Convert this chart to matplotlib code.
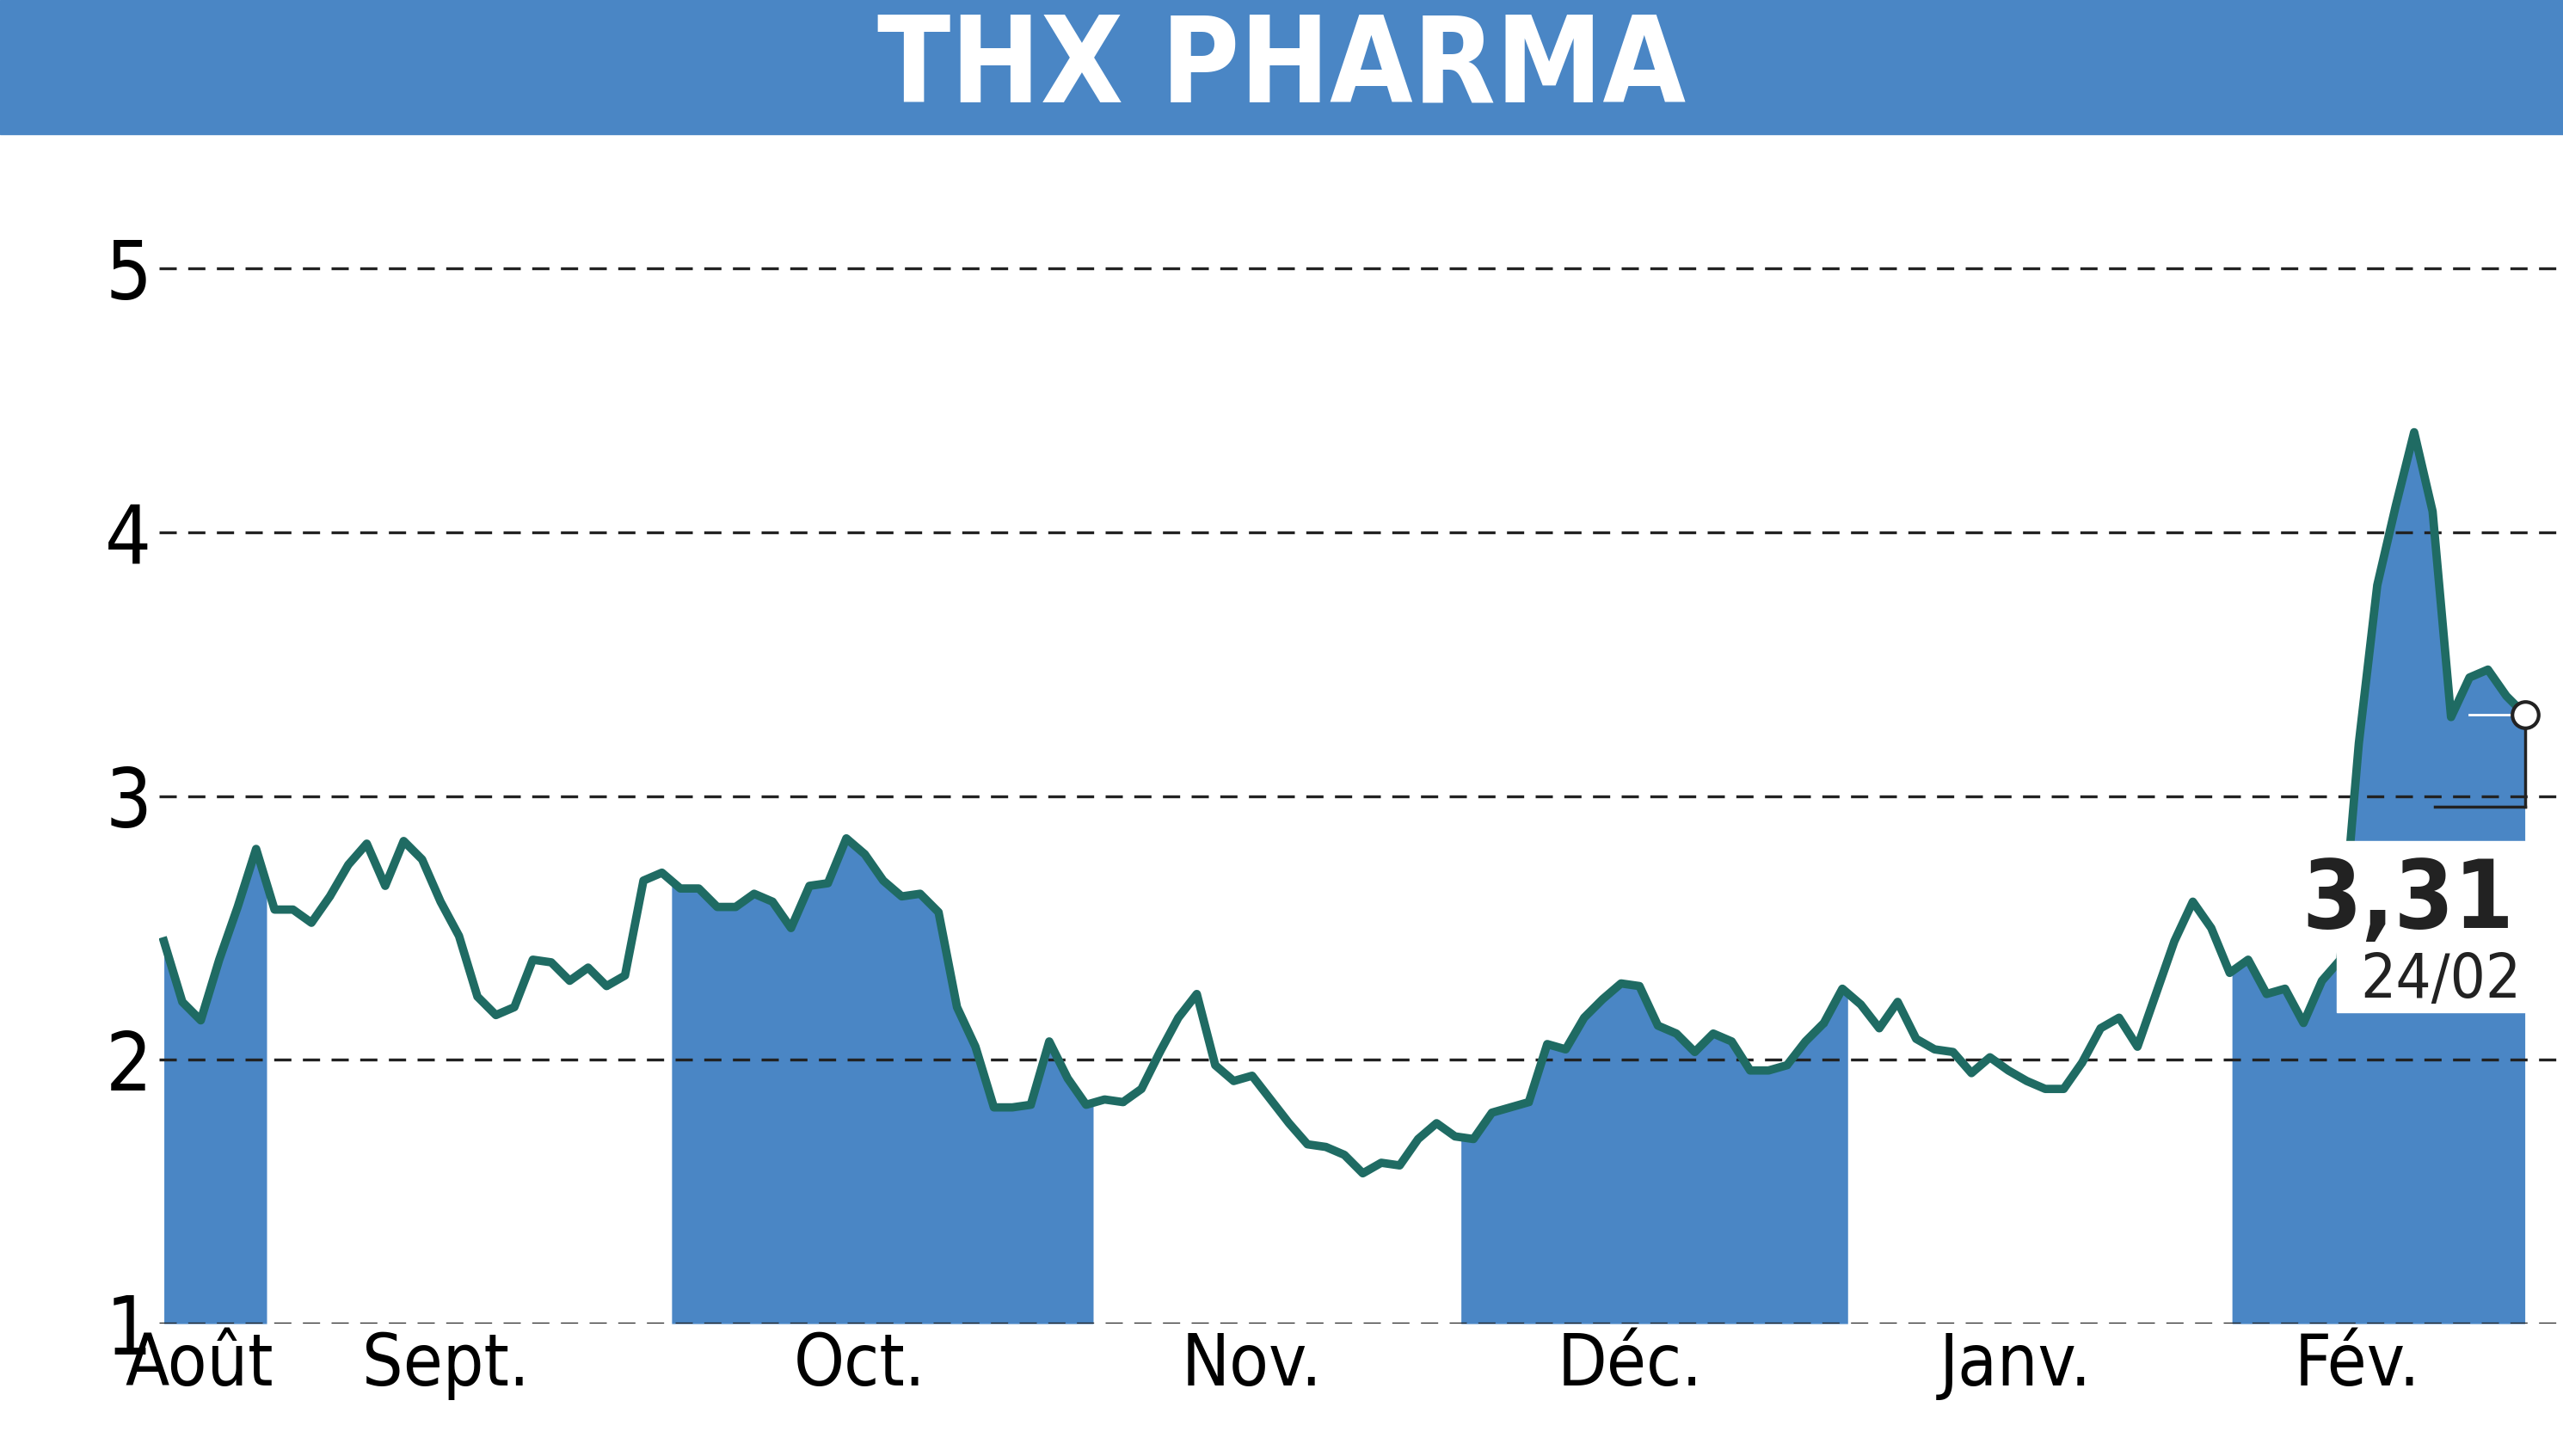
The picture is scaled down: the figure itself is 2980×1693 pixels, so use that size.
import numpy as np
import matplotlib.pyplot as plt
from matplotlib.patches import Rectangle

plt.rcParams['font.family'] = ['DejaVu Sans']
plt.rcParams['font.stretch'] = 'condensed'

# cours de cloture
cours = [2.45, 2.22, 2.15, 2.38, 2.58, 2.8, 2.57, 2.57, 2.52, 2.62, 2.74, 2.82, 2.66, 2.83,
         2.76, 2.6, 2.47, 2.24, 2.17, 2.2, 2.38, 2.37, 2.3, 2.35, 2.28, 2.32, 2.68, 2.71,
         2.65, 2.65, 2.58, 2.58, 2.63, 2.6, 2.5, 2.66, 2.67, 2.84, 2.78, 2.68, 2.62, 2.63,
         2.56, 2.2, 2.05, 1.82, 1.82, 1.83, 2.07, 1.93, 1.83, 1.85, 1.84, 1.89, 2.03, 2.16,
         2.25, 1.98, 1.92, 1.94, 1.85, 1.76, 1.68, 1.67, 1.64, 1.57, 1.61, 1.6, 1.7, 1.76,
         1.71, 1.7, 1.8, 1.82, 1.84, 2.06, 2.04, 2.16, 2.23, 2.29, 2.28, 2.13, 2.1, 2.03,
         2.1, 2.07, 1.96, 1.96, 1.98, 2.07, 2.14, 2.27, 2.21, 2.12, 2.22, 2.08, 2.04, 2.03,
         1.95, 2.01, 1.96, 1.92, 1.89, 1.89, 1.99, 2.12, 2.16, 2.05, 2.25, 2.45, 2.6, 2.5,
         2.33, 2.38, 2.25, 2.27, 2.14, 2.3, 2.38, 3.2, 3.8, 4.1, 4.38, 4.08, 3.3, 3.45,
         3.48, 3.38, 3.31]
mois = ['Août', 'Sept.', 'Oct.', 'Nov.', 'Déc.', 'Janv.', 'Fév.']
pos_mois = [1.9, 15.3, 37.7, 59.0, 79.5, 100.4, 118.9]
zones = [(-0.3, 5.6), (27.5, 50.4), (70.3, 91.3), (112.1, 130)]

bleu = '#4a86c5'
vert = '#1f6b63'

fig = plt.figure(figsize=(29.8, 16.93), dpi=100)
fig.patches.append(Rectangle((0, 0.908), 1, 0.092, transform=fig.transFigure,
                             color=bleu, zorder=0))
fig.text(0.5, 0.953, 'THX PHARMA', ha='center', va='center', color='white',
         fontsize=100, fontweight='bold')

ax = fig.add_axes([0.062, 0.0909, 0.938, 0.797])
n = len(cours) - 1
x = np.arange(len(cours))
xf = np.linspace(0, n, 4000)
yf = np.interp(xf, x, cours)
for a, b in zones:
    m = (xf >= a) & (xf <= b)
    ax.fill_between(xf[m], 1, yf[m], color=bleu, lw=0, zorder=1)

ax.plot(x, cours, color=vert, lw=7, zorder=3)
ax.plot(x, cours, 'o', color=vert, ms=4, zorder=3)

for v in [1, 2, 3, 4, 5]:
    ax.axhline(v, color='#222222', ls=(0, (6, 4)), lw=2.4, zorder=2)

ax.set_xlim(-0.27, n + 2.07)
ax.set_ylim(1, 5.4)
ax.set_yticks([1, 2, 3, 4, 5])
ax.set_yticklabels(['1', '2', '3', '4', '5'], fontsize=68)
ax.set_xticks(pos_mois)
ax.set_xticklabels(mois, fontsize=60)
ax.tick_params(length=0, pad=6)
for s in ax.spines.values():
    s.set_visible(False)

# etiquette derniere valeur
ax.add_patch(Rectangle((n - 10.2, 2.18), 10.2, 0.65, color='white', zorder=4))
ax.text(n - 0.6, 2.6, '3,31', ha='right', va='center', fontsize=80,
        fontweight='bold', color='#222222', zorder=5)
ax.text(n - 0.2, 2.3, '24/02', ha='right', va='center', fontsize=52,
        color='#222222', zorder=5)
ax.plot([n - 4.9, n], [2.96, 2.96], color='#222222', lw=2.5, zorder=5)
ax.plot([n, n], [2.96, cours[-1]], color='#222222', lw=2.5, zorder=5)
ax.plot([n - 3, n], [cours[-1], cours[-1]], color='white', lw=2, zorder=5)
ax.plot([n], [cours[-1]], 'o', ms=22, mfc='white', mec='#222222', mew=3, zorder=6)

fig.savefig('out.png', dpi=100)
